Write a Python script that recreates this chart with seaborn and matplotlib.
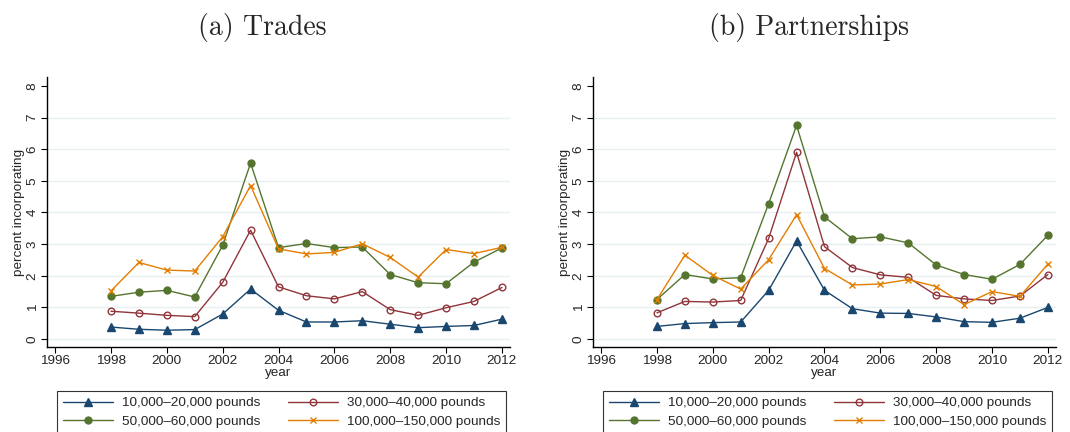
import numpy as np
import pandas as pd
import matplotlib
matplotlib.use("Agg")
import matplotlib.pyplot as plt
import seaborn as sns

years = list(range(1998, 2013))

series_labels = ["10,000\u201320,000 pounds", "30,000\u201340,000 pounds",
                 "50,000\u201360,000 pounds", "100,000\u2013150,000 pounds"]

# (a) Trades
trades_10_20 = [0.38, 0.31, 0.28, 0.30, 0.79, 1.58, 0.91, 0.54, 0.54, 0.58, 0.47, 0.36, 0.40, 0.43, 0.63]
trades_30_40 = [0.88, 0.82, 0.75, 0.71, 1.79, 3.44, 1.65, 1.37, 1.27, 1.50, 0.93, 0.75, 0.99, 1.19, 1.63]
trades_50_60 = [1.35, 1.48, 1.54, 1.33, 2.96, 5.56, 2.89, 3.02, 2.89, 2.91, 2.04, 1.78, 1.75, 2.43, 2.88]
trades_100_150 = [1.52, 2.42, 2.18, 2.15, 3.23, 4.85, 2.85, 2.69, 2.74, 3.01, 2.58, 1.96, 2.83, 2.70, 2.90]

# (b) Partnerships
part_10_20 = [0.40, 0.49, 0.52, 0.54, 1.54, 3.10, 1.54, 0.96, 0.82, 0.81, 0.70, 0.55, 0.53, 0.66, 1.00]
part_30_40 = [0.83, 1.19, 1.17, 1.22, 3.18, 5.90, 2.92, 2.26, 2.03, 1.95, 1.38, 1.27, 1.22, 1.36, 2.04]
part_50_60 = [1.25, 2.04, 1.90, 1.94, 4.28, 6.75, 3.86, 3.17, 3.23, 3.04, 2.34, 2.04, 1.89, 2.36, 3.28]
part_100_150 = [1.25, 2.65, 2.01, 1.58, 2.51, 3.93, 2.23, 1.71, 1.74, 1.88, 1.66, 1.09, 1.50, 1.35, 2.37]

panel_titles = ["(a) Trades", "(b) Partnerships"]
xticks = list(range(1996, 2013, 2))
yticks = list(range(0, 9))

colors = ["#1a476f", "#90353b", "#55752f", "#e37e00"]
markers = ["^", "o", "o", "x"]
filled = [True, False, True, True]
msizes = [5.5, 4.8, 5.0, 5.0]

sns.set_theme(style="white")
plt.rcParams["font.family"] = ["Liberation Sans", "DejaVu Sans"]

fig = plt.figure(figsize=(10.7, 4.32), dpi=100)
W, H = 1070, 432
ax_boxes = [(47, 77, 510, 347), (593, 77, 1056, 347)]
title_x = [262, 809]
legend_x = [57, 603]
legend_w = 449

panels = [
    [trades_10_20, trades_30_40, trades_50_60, trades_100_150],
    [part_10_20, part_30_40, part_50_60, part_100_150],
]

FS = 9.7

for pi, (box, data) in enumerate(zip(ax_boxes, panels)):
    l, t, r, b = box
    ax = fig.add_axes([l / W, 1 - b / H, (r - l) / W, (b - t) / H])
    for yv in yticks[:-1]:
        ax.axhline(yv, color="#e8f0f1", lw=1.0, zorder=0)
    for si in range(4):
        df = pd.DataFrame({"year": years, "pct": data[si]})
        mfc = colors[si] if filled[si] else "none"
        sns.lineplot(data=df, x="year", y="pct", ax=ax, color=colors[si],
                     marker=markers[si], markersize=msizes[si],
                     markerfacecolor=mfc, markeredgecolor=colors[si],
                     markeredgewidth=1.0,
                     lw=1.0, label=series_labels[si], legend=False)
    ax.set_xlim(1995.71, 2012.29)
    ax.set_ylim(-0.25, 8.28)
    ax.set_xticks(xticks)
    ax.set_yticks(yticks)
    ax.set_xticklabels([str(x) for x in xticks], fontsize=FS)
    ax.set_yticklabels([str(y) for y in yticks], fontsize=FS, rotation=90, va="center")
    ax.set_xlabel("year", fontsize=FS, labelpad=0)
    ax.set_ylabel("percent incorporating", fontsize=FS, labelpad=1)
    for s in ["top", "right"]:
        ax.spines[s].set_visible(False)
    for s in ["left", "bottom"]:
        ax.spines[s].set_color("black")
        ax.spines[s].set_linewidth(1.0)
    ax.tick_params(axis="x", which="major", direction="out", length=4,
                   width=0.8, color="black", pad=2, bottom=True)
    ax.tick_params(axis="y", which="major", direction="out", length=4,
                   width=0.8, color="black", pad=2, left=True)
    ax.grid(False)

    fig.text(title_x[pi] / W, 1 - 28 / H, panel_titles[pi],
             fontsize=20, family="cmr10", ha="center", va="center")

    handles, labels = ax.get_legend_handles_labels()
    order = [0, 2, 1, 3]
    leg = fig.legend([handles[i] for i in order], [labels[i] for i in order],
                     loc="upper left", ncol=2, mode="expand",
                     bbox_to_anchor=(legend_x[pi] / W, 1 - 391 / H, legend_w / W, 0),
                     borderaxespad=0, fontsize=FS, frameon=True, fancybox=False,
                     handlelength=3.7, columnspacing=1.6, labelspacing=0.42,
                     borderpad=0.45, handletextpad=0.65)
    leg.get_frame().set_edgecolor("black")
    leg.get_frame().set_linewidth(0.8)

fig.savefig("out.png", dpi=100, facecolor="white")
